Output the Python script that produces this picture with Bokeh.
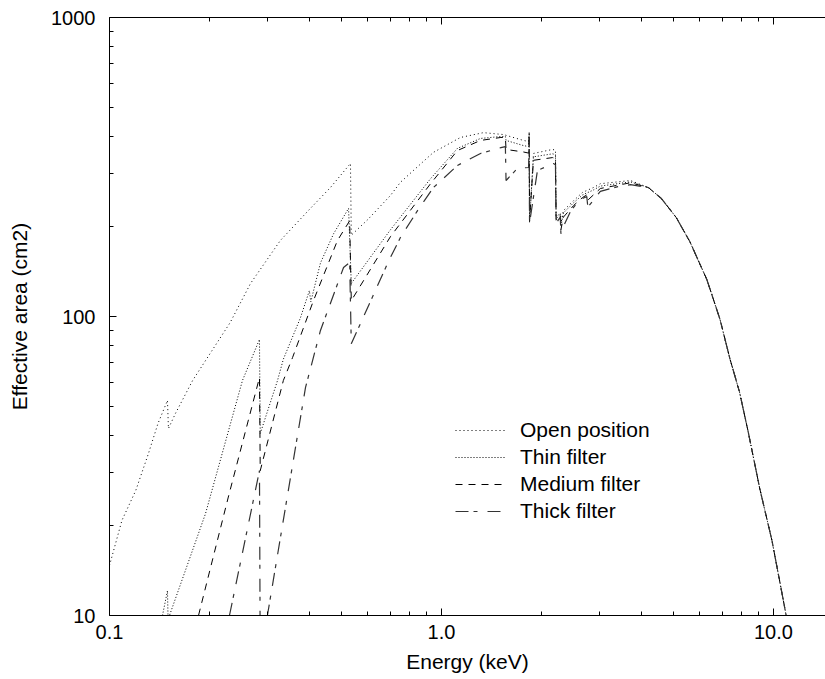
from bokeh.plotting import figure
from bokeh.models import (LogAxis, FixedTicker, Legend, LegendItem, CustomJSTickFormatter)
from bokeh.embed import file_html
from bokeh.resources import INLINE

# ---------------- data ----------------
x_tick_vals = [0.1, 1, 10]
x_tick_labels = ["0.1", "1.0", "10.0"]
x_minor_vals = [0.2, 0.3, 0.4, 0.5, 0.6, 0.7, 0.8, 0.9,
                2, 3, 4, 5, 6, 7, 8, 9]
y_tick_vals = [10, 100, 1000]
y_tick_labels = ["10", "100", "1000"]
y_minor_vals = [20, 30, 40, 50, 60, 70, 80, 90,
                200, 300, 400, 500, 600, 700, 800, 900]

# common high-energy tail (all filters coincide)
tail_energy = [4.2, 4.6, 5.1, 5.6, 6.3, 6.9, 7.4, 7.9, 8.4, 9.1, 9.9, 10.7, 11.0, 11.3]
tail_area = [270, 248, 214, 178, 133, 98, 72, 56, 41, 26.5, 17.8, 11.3, 9.6, 8.2]

open_energy = [0.100, 0.109, 0.120, 0.131, 0.140, 0.1495, 0.1505, 0.158, 0.178,
               0.231, 0.266, 0.327, 0.403, 0.463, 0.532, 0.535, 0.60, 0.702, 0.752,
               0.85, 0.946, 1.141, 1.338, 1.537, 1.766, 1.830, 1.838, 1.842, 1.893,
               2.16, 2.205, 2.215, 2.28, 2.29, 2.33, 2.50, 2.66, 2.87, 3.01, 3.71]
open_area = [14.7, 20.8, 26.2, 34.8, 43.9, 52.4, 42.2, 47.4, 61.1,
             95.5, 129, 179.5, 230, 270, 325, 187, 211, 254, 281,
             318, 354, 397, 412, 406, 388, 385, 416, 205, 351,
             362, 360, 215, 222, 205, 226, 244, 260, 270, 278, 285]

thin_energy = [0.1444, 0.1495, 0.1505, 0.1516, 0.1946, 0.2515, 0.283, 0.2845, 0.3206,
               0.334, 0.376, 0.400, 0.404, 0.432, 0.473, 0.525, 0.535, 0.702, 0.927,
               1.117, 1.311, 1.51, 1.558, 1.565, 1.766, 1.830, 1.838, 1.842, 1.893,
               2.16, 2.205, 2.215, 2.28, 2.29, 2.33, 2.50, 2.66, 2.87, 3.01, 3.71]
thin_area = [10, 12.1, 8.5, 10, 21.9, 61.1, 83.8, 40.6, 61,
             72, 99, 122, 112, 151, 189, 230, 129, 195, 289,
             365, 394, 400, 400, 388, 373, 370, 410, 208, 342,
             350, 348, 212, 220, 200, 222, 240, 255, 265, 273, 282]

medium_energy = [0.1854, 0.228, 0.283, 0.2845, 0.334, 0.356, 0.4115, 0.486, 0.529,
                 0.535, 0.702, 0.927, 1.117, 1.311, 1.51, 1.558, 1.565, 1.766, 1.830,
                 1.838, 1.842, 1.893, 2.16, 2.205, 2.215, 2.28, 2.29, 2.33, 2.50,
                 2.66, 2.74, 2.76, 3.01, 3.71]
medium_area = [10, 24.9, 62.5, 30.5, 61.1, 72.9, 113, 179.5, 209,
               113, 185, 278, 359, 388, 397, 397, 362, 355, 352,
               405, 210, 333, 340, 338, 210, 218, 195, 215, 235,
               250, 255, 245, 268, 280]

thick_energy = [0.2298, 0.283, 0.2845, 0.299, 0.3895, 0.432, 0.507, 0.529, 0.535,
                0.6946, 0.752, 0.847, 0.946, 1.117, 1.311, 1.51, 1.558, 1.565, 1.694,
                1.830, 1.838, 1.842, 1.946, 2.174, 2.205, 2.215, 2.28, 2.29, 2.33,
                2.45, 2.60, 2.74, 2.76, 3.01, 3.40, 3.71]
thick_area = [10, 30.5, 7, 10, 57.9, 89.8, 145.8, 151.6, 81,
              154, 183.6, 226, 270, 320, 351, 367, 370, 285, 313,
              315, 400, 205, 308, 325, 322, 205, 215, 189, 200,
              225, 245, 252, 232, 262, 272, 276]

series_names = ["Open position", "Thin filter", "Medium filter", "Thick filter"]

# ---------------- figure ----------------
FONT = "Liberation Sans"
p = figure(width=825, height=679, x_axis_type="log", y_axis_type="log",
           x_range=(0.1, 14.35), y_range=(10, 1000),
           output_backend="svg", toolbar_location=None,
           min_border_left=109, min_border_right=0, min_border_top=17,
           min_border_bottom=64)
p.outline_line_color = None
p.xgrid.visible = False
p.ygrid.visible = False
p.background_fill_color = "white"
p.border_fill_color = "white"

LABEL_CODE = """
const i = vals.indexOf(tick);
return i >= 0 ? labels[i] : String(tick);
"""


def style_axis(ax):
    ax.axis_line_color = "black"
    ax.axis_line_width = 1
    ax.major_tick_in = 7
    ax.major_tick_out = 0
    ax.minor_tick_in = 4
    ax.minor_tick_out = 0
    ax.major_tick_line_color = "black"
    ax.minor_tick_line_color = "black"
    ax.major_label_text_font = FONT
    ax.major_label_text_font_size = "20px"
    ax.major_label_text_color = "black"
    ax.axis_label_text_font = FONT
    ax.axis_label_text_font_size = "21px"
    ax.axis_label_text_font_style = "normal"
    ax.axis_label_text_color = "black"


xa = p.xaxis[0]
xa.ticker = FixedTicker(ticks=x_tick_vals, minor_ticks=x_minor_vals)
xa.formatter = CustomJSTickFormatter(args=dict(vals=x_tick_vals, labels=x_tick_labels),
                                     code=LABEL_CODE)
xa.axis_label = "Energy (keV)"
style_axis(xa)
xa.major_label_standoff = 9
xa.axis_label_standoff = 8

ya = p.yaxis[0]
ya.ticker = FixedTicker(ticks=y_tick_vals, minor_ticks=y_minor_vals)
ya.formatter = CustomJSTickFormatter(args=dict(vals=y_tick_vals, labels=y_tick_labels),
                                     code=LABEL_CODE)
ya.axis_label = "Effective area (cm2)"
style_axis(ya)
ya.major_label_standoff = 14
ya.axis_label_standoff = 17

top = LogAxis(ticker=FixedTicker(ticks=x_tick_vals, minor_ticks=x_minor_vals))
style_axis(top)
top.major_label_text_font_size = "6px"
top.major_label_text_alpha = 0
top.major_label_standoff = 0
p.add_layout(top, "above")

r_open = p.line(open_energy + tail_energy, open_area + tail_area,
                line_color="black", line_width=1, line_dash="1 3")
r_thin = p.line(thin_energy + tail_energy, thin_area + tail_area,
                line_color="black", line_width=1, line_dash="1 2")
r_med = p.line(medium_energy + tail_energy, medium_area + tail_area,
               line_color="black", line_width=1, line_dash="7 6")
r_thick = p.line(thick_energy + tail_energy, thick_area + tail_area,
                 line_color="#333333", line_width=1.2, line_dash="13 5 4 10")

legend = Legend(items=[LegendItem(label=n, renderers=[r])
                       for n, r in zip(series_names, [r_open, r_thin, r_med, r_thick])],
                location=(346, 92))
legend.border_line_color = None
legend.background_fill_alpha = 0
legend.padding = 0
legend.margin = 0
legend.spacing = 3
legend.glyph_width = 50
legend.glyph_height = 22
legend.label_height = 22
legend.label_standoff = 15
legend.label_text_font = FONT
legend.label_text_font_size = "21px"
legend.label_text_color = "black"
p.add_layout(legend)

open("out.html", "w").write(file_html(p, INLINE))
